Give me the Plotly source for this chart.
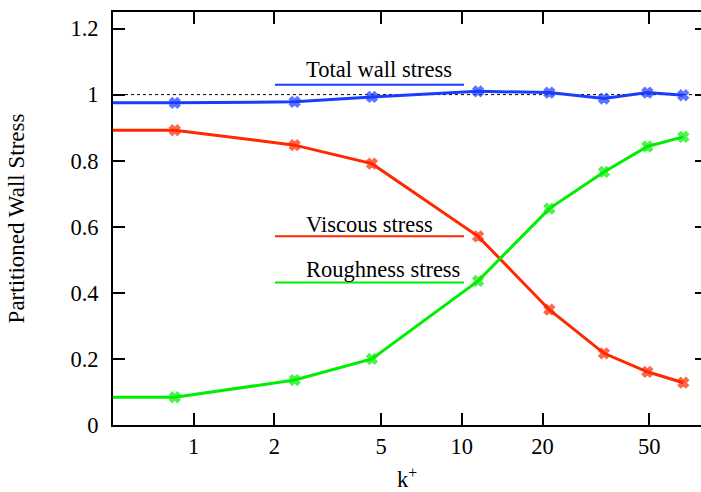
import math
import plotly.graph_objects as go

# ---- data ----
k_plus = [0.5, 0.85, 2.38, 4.62, 11.5, 21.2, 33.9, 49.2, 67.0]
total_stress = [0.975, 0.975, 0.978, 0.993, 1.010, 1.006, 0.988, 1.006, 0.998]
viscous_stress = [0.892, 0.892, 0.847, 0.791, 0.571, 0.349, 0.217, 0.161, 0.128]
roughness_stress = [0.084, 0.084, 0.136, 0.200, 0.436, 0.655, 0.766, 0.843, 0.872]
has_marker = [False, True, True, True, True, True, True, True, True]

series_names = ["Total wall stress", "Viscous stress", "Roughness stress"]
x_tick_vals = [1, 2, 5, 10, 20, 50]
x_tick_text = ["1", "2", "5", "10", "20", "50"]
y_tick_vals = [0, 0.2, 0.4, 0.6, 0.8, 1.0, 1.2]
y_tick_text = ["0", "0.2", "0.4", "0.6", "0.8", "1", "1.2"]
reference_level = 1.0

# legend placement (data y of sample line, data y of label)
legend_line_y = [1.030, 0.571, 0.431]
legend_text_y = [1.076, 0.608, 0.470]

colors = ["#1a3cff", "#ff2800", "#00ee00"]
FONT = "Liberation Serif"
FS = 22.5

fig = go.Figure()

sizes = [9 if m else 0 for m in has_marker]
for name, vals, col in zip(series_names, [total_stress, viscous_stress, roughness_stress], colors):
    fig.add_trace(go.Scatter(
        x=k_plus, y=vals, mode="lines+markers", name=name,
        line=dict(color=col, width=3),
        marker=dict(symbol="x", size=sizes, color=col, line=dict(width=1.5, color=col)),
        showlegend=False, hoverinfo="skip",
    ))

# dummy trace for right-side mirrored ticks
fig.add_trace(go.Scatter(x=[None], y=[None], yaxis="y2", showlegend=False, hoverinfo="skip"))

# reference dotted line at y = 1
fig.add_shape(type="line", xref="paper", yref="y", x0=0, x1=1,
              y0=reference_level, y1=reference_level,
              line=dict(color="black", width=1, dash="3px,3px"), layer="below")

# gnuplot-like in-plot key
for name, col, ly, ty in zip(series_names, colors, legend_line_y, legend_text_y):
    fig.add_shape(type="line", xref="paper", yref="y", x0=0.2755, x1=0.597,
                  y0=ly, y1=ly, line=dict(color=col, width=2))
    fig.add_annotation(text=name, xref="paper", yref="y", x=0.3248, y=ty,
                       xanchor="left", yanchor="middle", showarrow=False,
                       font=dict(family=FONT, size=FS, color="black"))

fig.update_layout(
    width=701, height=492,
    margin=dict(l=113, r=0, t=12, b=67),
    paper_bgcolor="white", plot_bgcolor="white",
    font=dict(family=FONT, size=FS, color="black"),
    xaxis=dict(
        type="log", range=[math.log10(0.5), math.log10(78)],
        tickvals=x_tick_vals, ticktext=x_tick_text,
        ticks="inside", ticklen=12, tickwidth=1.5, tickcolor="black",
        showline=True, linewidth=2, linecolor="black", mirror="ticks",
        showgrid=False, zeroline=False,
        title=dict(text="k<sup>+</sup>", standoff=17,
                   font=dict(family=FONT, size=FS)),
    ),
    yaxis=dict(
        range=[0, 1.25], tickvals=y_tick_vals, ticktext=y_tick_text,
        ticks="inside", ticklen=12, tickwidth=1.5, tickcolor="black",
        ticklabelstandoff=8,
        showline=True, linewidth=2, linecolor="black", mirror=False,
        showgrid=False, zeroline=False,
        title=dict(text="Partitioned Wall Stress", standoff=39,
                   font=dict(family=FONT, size=23)),
    ),
    yaxis2=dict(
        overlaying="y", side="right", range=[0, 1.25], tickvals=y_tick_vals,
        ticks="inside", ticklen=6, tickwidth=1.5, tickcolor="black",
        showticklabels=False, showline=False, showgrid=False, zeroline=False,
    ),
)

fig.write_html("out.html")
